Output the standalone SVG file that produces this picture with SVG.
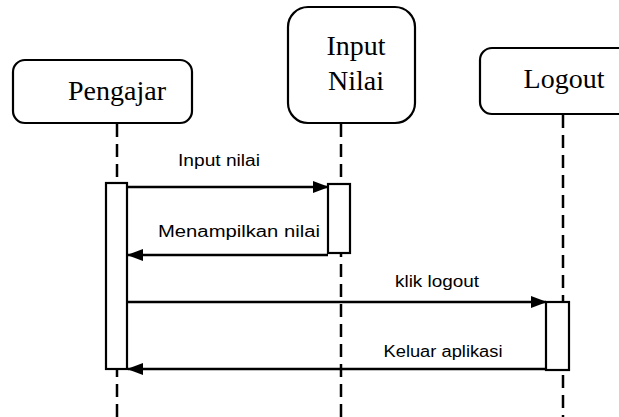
<svg xmlns="http://www.w3.org/2000/svg" width="619" height="417" viewBox="0 0 619 417">
  <style>
    .box { fill: #fff; stroke: #000; stroke-width: 2.2; }
    .head { font-family: "Liberation Serif", "Times New Roman", serif; font-size: 28px; fill: #000; text-anchor: middle; }
    .life { stroke: #000; stroke-width: 2.5; stroke-dasharray: 13 7; fill: none; }
    .act { fill: #fff; stroke: #000; stroke-width: 2.2; }
    .msg { stroke: #000; stroke-width: 2.5; fill: none; }
    .lbl { font-family: "Liberation Sans", Arial, sans-serif; font-size: 16px; fill: #000; text-anchor: middle; }
  </style>
  <defs>
    <marker id="arrow" markerWidth="16" markerHeight="12" refX="15" refY="6" orient="auto" markerUnits="userSpaceOnUse">
      <path d="M0,0 L16,6 L0,12 Z" fill="#000"/>
    </marker>
  </defs>
  <rect width="619" height="417" fill="#fff"/>

  <!-- dashed lifelines under each participant -->
  <g id="lifelines">
    <line class="life" x1="117" y1="124" x2="117" y2="417"/>
    <line class="life" x1="341" y1="124" x2="341" y2="417"/>
    <line class="life" x1="563" y1="115" x2="563" y2="417"/>
  </g>

  <g id="pengajar">
    <rect class="box" x="13" y="60" width="179" height="63" rx="12"/>
    <text class="head" x="117" y="100">Pengajar</text>
    <rect class="act" x="106" y="183" width="21" height="186"/>
  </g>

  <g id="input-nilai">
    <rect class="box" x="288" y="7" width="127" height="116" rx="20"/>
    <text class="head" x="356" y="55">Input</text>
    <text class="head" x="356" y="90">Nilai</text>
    <rect class="act" x="328" y="184" width="22" height="69"/>
  </g>

  <g id="logout">
    <rect class="box" x="480" y="48" width="160" height="66" rx="12"/>
    <text class="head" x="564" y="88">Logout</text>
    <rect class="act" x="546" y="302" width="23" height="68"/>
  </g>

  <!-- messages -->
  <g id="connectors">
    <line class="msg" x1="127" y1="187" x2="328" y2="187" marker-end="url(#arrow)"/>
    <line class="msg" x1="328" y1="255" x2="128" y2="255" marker-end="url(#arrow)"/>
    <line class="msg" x1="127" y1="302" x2="546" y2="302" marker-end="url(#arrow)"/>
    <line class="msg" x1="546" y1="369" x2="128" y2="369" marker-end="url(#arrow)"/>
    <text class="lbl" x="219" y="166" textLength="82" lengthAdjust="spacingAndGlyphs">Input nilai</text>
    <text class="lbl" x="239" y="237" textLength="162" lengthAdjust="spacingAndGlyphs">Menampilkan  nilai</text>
    <text class="lbl" x="437" y="287" textLength="84" lengthAdjust="spacingAndGlyphs">klik logout</text>
    <text class="lbl" x="443" y="357" textLength="119" lengthAdjust="spacingAndGlyphs">Keluar aplikasi</text>
  </g>
</svg>
